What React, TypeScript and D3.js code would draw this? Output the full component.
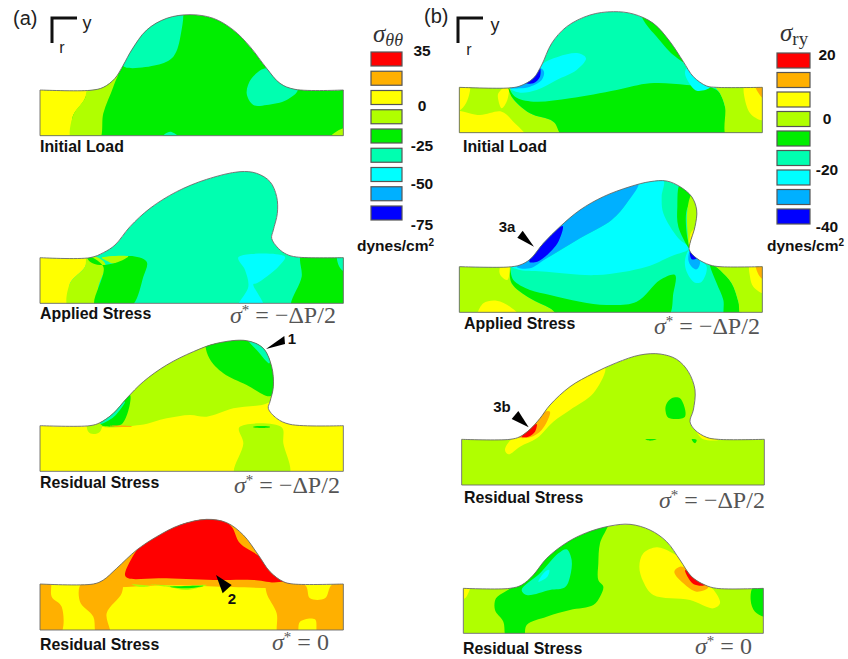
import React from "react";
import * as d3 from "d3";

// stress levels, top of the legend first
const levels = ["#ff0000", "#ffb000", "#ffff00", "#b0ff00", "#00ee00", "#00ffb0", "#00ffff", "#00b0ff", "#0000ff"];
const [RED, ORANGE, YELLOW, LIME, GREEN, TEAL, CYAN, SKY, BLUE] = [0, 1, 2, 3, 4, 5, 6, 7, 8];

type Pt = [number, number];
type Region = [number, Pt[]];

// contours at 3x, relative to each panel's crop origin
const a1Top: Pt[] = [[120,270],[270,271],[310,262],[345,235],[370,195],[395,150],[440,90],[500,55],[570,44],[640,55],[700,90],[750,140],[800,205],[840,250],[885,268],[1030,270]];
const a1Regions: Region[] = [
  [YELLOW, [[90,240],[262,250],[255,295],[218,350],[215,407],[200,440],[90,440]]],
  [LIME, [[262,270],[360,200],[340,260],[310,340],[297,420],[215,420],[218,350],[255,295]]],
  [TEAL, [[545,30],[543,100],[520,170],[470,195],[370,198],[400,140],[450,75],[500,40]]],
  [TEAL, [[800,205],[755,235],[740,280],[760,315],[800,315],[860,300],[893,270],[845,250]]],
  [TEAL, [[485,412],[510,395],[538,412]]],
  [LIME, [[990,412],[1035,385],[1045,420]]],
];

const a2Top: Pt[] = [[120,773],[270,773],[310,758],[345,735],[390,680],[450,625],[530,575],[620,538],[720,515],[770,520],[810,545],[830,590],[832,640],[820,690],[815,715],[835,745],[860,763],[890,771],[1030,773]];
const a2Regions: Region[] = [
  [YELLOW, [[90,750],[262,760],[255,800],[210,850],[205,925],[90,940]]],
  [LIME, [[262,765],[315,790],[295,860],[285,925],[205,925],[210,850],[255,800]]],
  [GREEN, [[258,765],[270,785],[300,795],[340,790],[385,768],[440,785],[430,830],[392,920],[285,920],[310,800]]],
  [LIME, [[305,773],[385,769],[340,790],[320,782]]],
  [CYAN, [[715,772],[855,770],[835,800],[770,850],[760,853],[790,920],[715,920],[745,860],[735,810]]],
  [GREEN, [[905,765],[1050,760],[1050,925],[875,925],[905,830]]],
  [TEAL, [[1012,765],[1040,765],[1035,815],[1018,800]]],
];

const a3Top: Pt[] = [[120,287],[270,287],[300,278],[340,250],[380,205],[430,155],[500,105],[580,65],[650,40],[740,32],[790,55],[815,110],[820,170],[810,215],[805,235],[830,265],[870,283],[1030,287]];
const a3Regions: Region[] = [
  [LIME, [[290,282],[420,285],[500,265],[570,255],[620,260],[700,235],[805,218],[840,180],[830,100],[790,20],[620,10],[450,110]]],
  [GREEN, [[620,35],[628,85],[670,130],[740,165],[812,198],[835,150],[810,40],[740,20]]],
  [TEAL, [[740,25],[770,60],[808,100],[800,50]]],
  [GREEN, [[300,283],[365,283],[390,195],[330,245]]],
  [TEAL, [[300,282],[340,262],[375,215],[330,245]]],
  [LIME, [[718,292],[845,292],[850,340],[867,435],[704,435],[730,340]]],
  [LIME, [[262,285],[305,285],[300,305],[280,312],[265,305]]],
  [ORANGE, [[330,288],[395,289],[395,290],[330,289]]],
  [GREEN, [[760,290],[810,290],[810,292],[760,292]]],
];

const a4Top: Pt[] = [[120,762],[280,762],[310,750],[350,715],[410,660],[470,620],[540,585],[620,568],[680,578],[730,615],[775,675],[810,725],[850,755],[880,762],[1030,762]];
const a4Regions: Region[] = [
  [ORANGE, [[270,765],[350,705],[410,650],[470,610],[620,555],[700,565],[790,680],[860,745],[890,766],[500,766]]],
  [RED, [[410,660],[375,735],[385,745],[480,745],[640,750],[760,750],[880,765],[830,730],[780,680],[720,640],[695,590],[660,565],[620,560],[520,575],[440,625]]],
  [ORANGE, [[100,750],[150,750],[155,800],[185,830],[180,915],[100,915]]],
  [ORANGE, [[245,760],[365,760],[365,790],[320,850],[330,915],[290,915],[280,860],[240,815]]],
  [ORANGE, [[800,765],[915,765],[930,805],[975,805],[995,765],[1050,750],[1050,915],[955,915],[945,868],[900,875],[890,915],[835,915],[830,850],[800,790]]],
  [LIME, [[395,763],[450,768],[420,771]]],
  [LIME, [[450,763],[540,768],[620,765],[560,780],[510,772]]],
  [GREEN, [[510,770],[570,768],[610,768],[560,775]]],
];

const b1Top: Pt[] = [[88,262],[235,264],[270,258],[310,235],[335,195],[365,130],[410,80],[480,45],[550,35],[610,42],[670,70],[720,125],[760,185],[790,230],[830,258],[860,262],[997,262]];
const b1Regions: Region[] = [
  [LIME, [[70,245],[235,250],[245,290],[300,340],[370,365],[405,415],[70,415]]],
  [YELLOW, [[70,250],[118,250],[108,310],[80,335]]],
  [YELLOW, [[235,255],[232,300],[215,325],[205,300],[205,280]]],
  [YELLOW, [[70,335],[150,345],[215,335],[250,365],[290,415],[70,415]]],
  [GREEN, [[235,262],[255,290],[310,305],[420,295],[560,270],[660,250],[770,255],[860,270],[885,320],[892,415],[405,415],[370,365],[300,340],[245,290]]],
  [LIME, [[855,255],[1015,250],[1015,415],[892,415],[885,320],[870,280]]],
  [YELLOW, [[945,255],[1010,255],[1005,360],[965,345],[945,300]]],
  [ORANGE, [[975,255],[1005,255],[1000,295]]],
  [CYAN, [[335,195],[385,170],[445,160],[468,175],[440,210],[380,240],[320,270],[270,278],[240,265],[280,245],[330,225]]],
  [SKY, [[240,264],[290,240],[330,205],[342,215],[335,240],[300,260],[270,265]]],
  [BLUE, [[285,248],[310,232],[330,205],[330,230],[310,250]]],
  [GREEN, [[635,45],[680,60],[730,120],[770,190],[730,165],[680,110],[650,75]]],
  [CYAN, [[770,205],[800,235],[840,262],[800,272],[775,245],[765,220]]],
];

const b2Top: Pt[] = [[88,800],[235,801],[270,795],[300,778],[340,730],[390,680],[450,630],[520,590],[600,560],[660,545],[710,543],[750,560],[785,590],[800,630],[795,680],[780,730],[778,750],[800,775],[840,795],[870,800],[997,800]];
const b2Regions: Region[] = [
  [LIME, [[70,785],[235,790],[245,850],[300,895],[360,925],[400,955],[70,955]]],
  [GREEN, [[240,805],[250,840],[300,870],[360,885],[450,905],[530,915],[620,905],[690,840],[735,825],[730,880],[710,955],[400,955],[360,925],[300,895],[245,850]]],
  [GREEN, [[840,790],[870,810],[905,850],[925,905],[935,955],[885,955],[880,900],[860,850]]],
  [LIME, [[850,790],[1015,790],[1015,955],[935,955],[925,905],[905,850],[870,810]]],
  [YELLOW, [[960,795],[1005,795],[1005,880],[970,860],[960,830]]],
  [ORANGE, [[978,795],[1005,795],[1003,838],[990,830]]],
  [YELLOW, [[215,795],[237,795],[232,840],[215,830],[208,815]]],
  [YELLOW, [[145,945],[160,910],[200,902],[240,920],[265,945]]],
  [CYAN, [[625,550],[700,540],[695,590],[700,640],[745,715],[778,745],[720,770],[650,800],[500,825],[350,815],[270,810],[245,800],[300,795],[340,780],[450,715],[545,660],[590,610]]],
  [SKY, [[260,800],[295,770],[335,722],[390,672],[450,622],[520,582],[625,550],[590,610],[545,660],[450,715],[350,775],[300,805]]],
  [BLUE, [[298,785],[335,730],[398,678],[385,725],[345,770],[315,787]]],
  [GREEN, [[750,555],[790,590],[770,630],[770,700],[778,745],[745,680],[742,620]]],
  [LIME, [[785,585],[810,630],[800,690],[780,745],[772,690],[772,630]]],
  [YELLOW, [[805,675],[780,745],[782,700]]],
  [ORANGE, [[800,695],[778,745],[790,700]]],
  [CYAN, [[778,750],[800,770],[830,800],[815,845],[795,848],[770,815],[765,780]]],
  [SKY, [[780,755],[810,785],[800,808],[785,800],[775,780]]],
  [BLUE, [[780,750],[802,773],[785,778]]],
];

const b3Top: Pt[] = [[95,268],[240,268],[270,260],[300,238],[330,205],[360,165],[420,110],[490,70],[560,38],[630,15],[690,12],[740,28],[775,65],[795,120],[790,180],[780,215],[795,240],[830,262],[865,268],[1003,268]];
const b3Regions: Region[] = [
  [YELLOW, [[225,300],[240,272],[280,250],[310,225],[350,172],[420,105],[525,55],[490,130],[420,180],[370,215],[320,265],[270,290],[235,313]]],
  [ORANGE, [[265,262],[300,232],[345,185],[360,185],[335,240],[300,262]]],
  [RED, [[275,260],[305,230],[320,222],[315,245],[295,260]]],
  [GREEN, [[708,165],[725,145],[750,145],[765,200],[715,203],[707,185]]],
  [GREEN, [[645,268],[680,268],[660,272]]],
  [GREEN, [[785,268],[800,270],[795,280]]],
  [YELLOW, [[800,245],[830,258],[865,270],[820,268]]],
];

const b4Top: Pt[] = [[100,715],[240,715],[275,705],[310,675],[350,625],[410,578],[470,548],[540,528],[600,523],[660,540],[710,575],[750,630],[785,680],[825,705],[860,715],[1000,715]];
const b4Regions: Region[] = [
  [GREEN, [[535,515],[510,580],[505,640],[505,690],[520,710],[510,740],[490,765],[420,780],[350,800],[290,825],[280,865],[230,865],[220,815],[195,780],[198,745],[225,725],[265,700],[330,625],[400,565]]],
  [TEAL, [[275,720],[330,670],[385,610],[410,598],[425,630],[420,680],[405,712],[360,720],[290,735]]],
  [CYAN, [[325,695],[345,665],[358,660],[352,680]]],
  [YELLOW, [[628,650],[640,610],[680,592],[720,605],[760,630],[810,685],[855,725],[870,760],[850,775],[780,750],[670,735],[640,695]]],
  [ORANGE, [[733,665],[750,650],[775,660],[810,690],[835,712],[800,725],[760,700]]],
  [RED, [[765,660],[790,675],[825,705],[790,702]]],
  [GREEN, [[1015,700],[970,710],[962,750],[975,785],[1015,800]]],
  [YELLOW, [[90,705],[120,705],[105,745],[90,745]]],
];

const panels = [
  { id: "a1", crop: [0, 0], base: 407, top: a1Top, regions: a1Regions, fill: GREEN },
  { id: "a2", crop: [0, 0], base: 910, top: a2Top, regions: a2Regions, fill: TEAL },
  { id: "a3", crop: [0, 330], base: 424, top: a3Top, regions: a3Regions, fill: YELLOW },
  { id: "a4", crop: [0, 330], base: 900, top: a4Top, regions: a4Regions, fill: YELLOW },
  { id: "b1", crop: [430, 0], base: 398, top: b1Top, regions: b1Regions, fill: TEAL },
  { id: "b2", crop: [430, 0], base: 937, top: b2Top, regions: b2Regions, fill: TEAL },
  { id: "b3", crop: [430, 350], base: 405, top: b3Top, regions: b3Regions, fill: LIME },
  { id: "b4", crop: [430, 350], base: 850, top: b4Top, regions: b4Regions, fill: LIME },
];

const captions: [string, number, number][] = [
  ["Initial Load", 40, 152], ["Applied Stress", 40, 319], ["Residual Stress", 40, 488], ["Residual Stress", 40, 650],
  ["Initial Load", 463, 152], ["Applied Stress", 464, 329], ["Residual Stress", 464, 503], ["Residual Stress", 463, 654],
];
const sigmaLabels: [string, number, number][] = [
  ["\u2212\u0394P/2", 230, 323], ["\u2212\u0394P/2", 234, 493], ["0", 272, 650],
  ["\u2212\u0394P/2", 654, 334], ["\u2212\u0394P/2", 659, 508], ["0", 695, 654],
];
const ticksA: [string, number][] = [["35", 55.5], ["0", 111], ["-25", 151], ["-50", 189], ["-75", 230]];
const ticksB: [string, number][] = [["20", 60], ["0", 124], ["-20", 175], ["-40", 232]];
const legends = [
  { x: 371, y: 52, w: 31, h: 14, step: 19.25, ticks: ticksA, tickX: 422, unitX: 357, unitY: 251 },
  { x: 777, y: 53, w: 33, h: 15, step: 19.5, ticks: ticksB, tickX: 827, unitX: 767, unitY: 251 },
];
const axesMarks = [
  { x: 52, y: 18, yX: 87, yY: 29, rX: 62, rY: 53 },
  { x: 458, y: 18, yX: 495, yY: 31, rX: 469, rY: 55 },
];
const arrows: { pts: Pt[]; crop: number[]; label: string; lx: number; ly: number }[] = [
  { pts: [[798,57],[853,18],[855,42]], crop: [0, 330], label: "1", lx: 292, ly: 344 },
  { pts: [[648,735],[695,765],[668,790]], crop: [0, 330], label: "2", lx: 232, ly: 604 },
  { pts: [[312,740],[278,692],[262,713]], crop: [430, 0], label: "3a", lx: 507, ly: 232 },
  { pts: [[296,232],[265,183],[245,207]], crop: [430, 350], label: "3b", lx: 502, ly: 412 },
];

const smooth = d3.line().curve(d3.curveCatmullRomClosed.alpha(0.5));
const topCurve = d3.line().curve(d3.curveCatmullRom.alpha(0.5));

function cropScales(crop: number[]) {
  const x = d3.scaleLinear().domain([0, 3]).range([crop[0], crop[0] + 1]);
  const y = d3.scaleLinear().domain([0, 3]).range([crop[1], crop[1] + 1]);
  return (pts: Pt[]) => pts.map(([a, b]) => [x(a), y(b)] as Pt);
}

const sans = "'Liberation Sans', Arial, sans-serif";
const serif = "'Liberation Serif', 'Times New Roman', serif";

function Panel({ p }: { p: (typeof panels)[number] }) {
  const toPx = cropScales(p.crop);
  const first = p.top[0];
  const last = p.top[p.top.length - 1];
  const outline = topCurve(toPx(p.top)) + "L" + toPx([[last[0], p.base], [first[0], p.base]]).join("L") + "Z";
  return (
    <g>
      <clipPath id={"clip-" + p.id}>
        <path d={outline} />
      </clipPath>
      <g clipPath={`url(#clip-${p.id})`}>
        <path d={outline} fill={levels[p.fill]} />
        {p.regions.map(([lvl, pts], i) => (
          <path key={i} d={smooth(toPx(pts)) as string} fill={levels[lvl]} />
        ))}
      </g>
      <path d={outline} fill="none" stroke="#6a6a6a" strokeWidth={0.9} />
    </g>
  );
}

export default function App() {
  return (
    <svg width={848} height={659} style={{ position: "absolute", left: 0, top: 0, background: "#fff" }}>
      {panels.map((p) => (
        <Panel key={p.id} p={p} />
      ))}

      <text x={13} y={25} fontFamily={sans} fontSize={20} fill="#222">(a)</text>
      <text x={424} y={23} fontFamily={sans} fontSize={20} fill="#222">(b)</text>

      {axesMarks.map((m, i) => (
        <g key={i}>
          <path d={`M${m.x + 25},${m.y}H${m.x}V${m.y + 25}`} fill="none" stroke="#111" strokeWidth={3} />
          <text x={m.yX} y={m.yY} fontFamily={sans} fontSize={18} fill="#222" textAnchor="middle">y</text>
          <text x={m.rX} y={m.rY} fontFamily={sans} fontSize={16} fill="#222" textAnchor="middle">r</text>
        </g>
      ))}

      {legends.map((l, i) => (
        <g key={i}>
          {levels.map((c, j) => (
            <rect key={j} x={l.x} y={l.y + j * l.step} width={l.w} height={l.h} fill={c} stroke="#555" strokeWidth={1.2} />
          ))}
          {l.ticks.map(([t, y]) => (
            <text key={t} x={l.tickX} y={y} fontFamily={sans} fontWeight="bold" fontSize={15.5} textAnchor="middle" fill="#111">{t}</text>
          ))}
          <text x={l.unitX} y={l.unitY} fontFamily={sans} fontWeight="bold" fontSize={15.5} fill="#111">
            dynes/cm<tspan dy={-5} fontSize={10}>2</tspan>
          </text>
        </g>
      ))}

      <text x={373} y={42} fontFamily={serif} fontStyle="italic" fontSize={25} fill="#333">
        σ<tspan dy={4} fontSize={18}>θθ</tspan>
      </text>
      <text x={780} y={41} fontFamily={serif} fontSize={25} fill="#333">
        <tspan fontStyle="italic">σ</tspan><tspan dy={4} fontSize={19}>ry</tspan>
      </text>

      {captions.map(([t, x, y], i) => (
        <text key={i} x={x} y={y} fontFamily={sans} fontWeight="bold" fontSize={15.9} fill="#111">{t}</text>
      ))}

      {sigmaLabels.map(([t, x, y], i) => (
        <text key={i} x={x} y={y} fontFamily={serif} fontSize={24} fill="#555">
          <tspan fontStyle="italic">σ</tspan>
          <tspan dy={-8} fontSize={15}>*</tspan>
          <tspan dy={8}> = {t}</tspan>
        </text>
      ))}

      {arrows.map((a, i) => (
        <g key={i}>
          <path d={d3.line()(cropScales(a.crop)(a.pts)) + "Z"} fill="#000" />
          <text x={a.lx} y={a.ly} fontFamily={sans} fontWeight="bold" fontSize={15} fill="#111" textAnchor="middle">{a.label}</text>
        </g>
      ))}
    </svg>
  );
}
